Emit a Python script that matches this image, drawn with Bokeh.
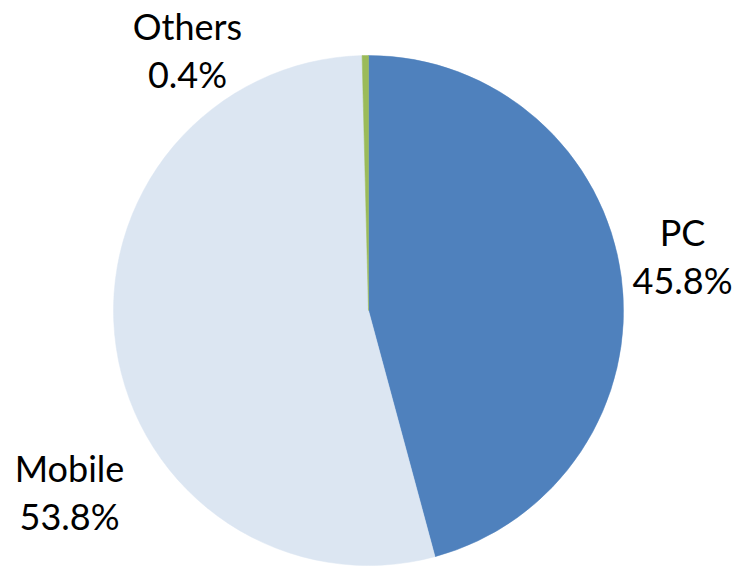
import math
from bokeh.plotting import figure
from bokeh.models import ColumnDataSource
from bokeh.core.properties import value
from bokeh.embed import file_html
from bokeh.resources import INLINE

# ---- data ----
categories = ["PC", "Mobile", "Others"]
shares = [45.8, 53.8, 0.4]
colors = ["#4F81BD", "#DCE6F2", "#9BBB59"]

# ---- layout (pixel-like units, y up) ----
W, H = 735, 567
cx, cy, R = 368, 257, 255
# label anchor positions (page layout, not data)
label_pos = {"PC": (682, 336), "Mobile": (69, 100), "Others": (187, 542)}
line_gap = 48

total = sum(shares)
starts, ends = [], []
a = math.pi / 2
for s in shares:
    starts.append(a)
    a -= s / total * 2 * math.pi
    ends.append(a)

src = ColumnDataSource(dict(cat=categories, share=shares, color=colors,
                            start=starts, end=ends))

p = figure(width=W, height=H, x_range=(0, W), y_range=(0, H),
           output_backend="svg", toolbar_location=None, min_border=0)
p.axis.visible = False
p.grid.visible = False
p.outline_line_color = None
p.background_fill_color = "white"

p.wedge(x=cx, y=cy, radius=R, start_angle="start", end_angle="end",
        direction="clock", fill_color="color", line_color="color",
        line_width=0.5, source=src)

lx = [label_pos[c][0] for c in categories]
ly1 = [label_pos[c][1] for c in categories]
ly2 = [label_pos[c][1] - line_gap for c in categories]
pct = [f"{s:.1f}%" for s in shares]

lab = ColumnDataSource(dict(x=lx, y1=ly1, y2=ly2, name=categories, pct=pct))
common = dict(text_font=value("Lato"), text_font_size="36px",
              text_align="center", text_baseline="middle", text_color="black",
              source=lab)
p.text(x="x", y="y1", text="name", **common)
p.text(x="x", y="y2", text="pct", **common)

open("out.html", "w").write(file_html(p, INLINE))
